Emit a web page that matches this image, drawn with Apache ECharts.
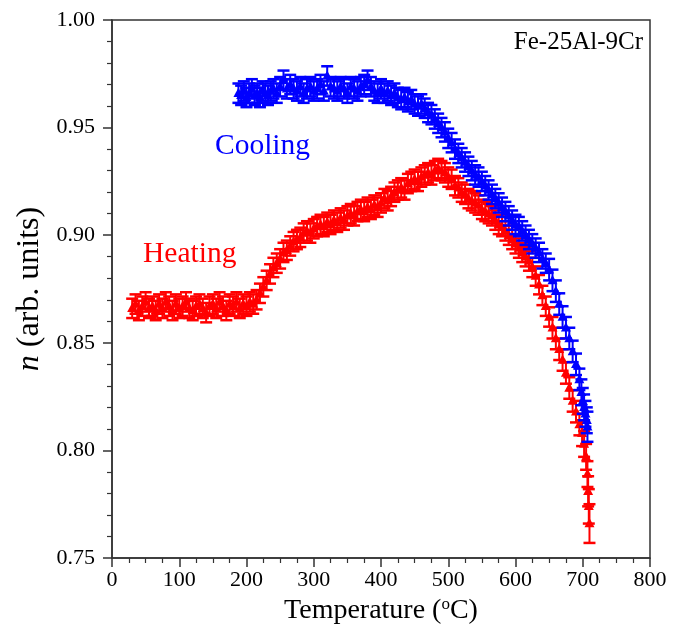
<!DOCTYPE html>
<html>
<head>
<meta charset="utf-8">
<script src="https://cdn.jsdelivr.net/npm/echarts@6/dist/echarts.min.js"></script>
<style>
html,body{margin:0;padding:0;background:#fff;}
#chart{width:682px;height:630px;}
</style>
</head>
<body>
<div id="chart"></div>
<script>
// Heating data: [temperature (°C), n (arb. units), error]
var heating = [
[30,0.866,0.0045],[35,0.868,0.0045],[40,0.865,0.0045],[45,0.867,0.0045],[50,0.869,0.0045],
[55,0.866,0.0045],[60,0.867,0.0045],[65,0.865,0.0045],[70,0.868,0.0045],[75,0.866,0.0045],
[80,0.869,0.0045],[85,0.867,0.0045],[90,0.865,0.0045],[95,0.868,0.0045],[100,0.866,0.0045],
[105,0.867,0.0045],[110,0.869,0.0045],[115,0.866,0.0045],[120,0.865,0.0045],[125,0.867,0.0045],
[130,0.868,0.0045],[135,0.866,0.0045],[140,0.864,0.0045],[145,0.867,0.0045],[150,0.868,0.0045],
[155,0.866,0.0045],[160,0.869,0.0045],[165,0.867,0.0045],[170,0.865,0.0045],[175,0.868,0.0045],
[180,0.867,0.0045],[185,0.869,0.0045],[190,0.866,0.0045],[195,0.868,0.0045],[200,0.867,0.0045],
[205,0.869,0.0045],[210,0.868,0.0045],[215,0.870,0.0045],[220,0.873,0.0045],[225,0.876,0.0045],
[230,0.879,0.0045],[235,0.882,0.0045],[240,0.885,0.0045],[245,0.887,0.0045],[250,0.889,0.0045],
[255,0.892,0.0045],[260,0.893,0.0045],[265,0.895,0.0045],[270,0.897,0.0045],[275,0.898,0.0045],
[280,0.899,0.0045],[285,0.901,0.0045],[290,0.902,0.0045],[295,0.901,0.0045],[300,0.903,0.0045],
[305,0.904,0.0045],[310,0.905,0.0045],[315,0.904,0.0045],[320,0.906,0.0045],[325,0.905,0.0045],
[330,0.907,0.0045],[335,0.906,0.0045],[340,0.908,0.0045],[345,0.907,0.0045],[350,0.909,0.0045],
[355,0.910,0.0045],[360,0.909,0.0045],[365,0.911,0.0045],[370,0.912,0.0045],[375,0.911,0.0045],
[380,0.913,0.0045],[385,0.912,0.0045],[390,0.914,0.0045],[395,0.913,0.0045],[400,0.915,0.0045],
[405,0.917,0.0045],[410,0.916,0.0045],[415,0.918,0.0045],[420,0.920,0.0045],[425,0.921,0.0045],
[430,0.922,0.0045],[435,0.921,0.0045],[440,0.924,0.0045],[445,0.925,0.0045],[450,0.926,0.0045],
[455,0.925,0.0045],[460,0.927,0.0045],[465,0.928,0.0045],[470,0.929,0.0045],[475,0.928,0.0045],
[480,0.930,0.0045],[485,0.931,0.0045],[490,0.930,0.0045],[495,0.929,0.0045],[500,0.927,0.0045],
[505,0.926,0.0045],[510,0.923,0.0045],[515,0.922,0.0045],[520,0.920,0.0045],[525,0.919,0.0045],
[530,0.917,0.0045],[535,0.916,0.0045],[540,0.915,0.0045],[545,0.914,0.0045],[550,0.912,0.0045],
[555,0.911,0.0045],[560,0.910,0.0045],[565,0.909,0.0045],[570,0.907,0.0045],[575,0.905,0.0045],
[580,0.904,0.0045],[585,0.902,0.0045],[590,0.900,0.0045],[595,0.898,0.0045],[600,0.896,0.0045],
[605,0.894,0.0045],[610,0.892,0.0045],[615,0.890,0.0045],[620,0.888,0.0045],[625,0.885,0.0045],
[630,0.881,0.0045],[635,0.877,0.0045],[640,0.872,0.0045],[645,0.867,0.0045],[650,0.862,0.0045],
[655,0.857,0.005],[660,0.852,0.005],[665,0.847,0.005],[670,0.842,0.005],[675,0.836,0.005],
[680,0.829,0.005],[685,0.823,0.005],[690,0.818,0.005],[695,0.812,0.005],[699,0.808,0.006],
[702,0.803,0.006],[705,0.797,0.006],[707,0.789,0.006],[708,0.781,0.007],[709,0.774,0.008],
[710,0.766,0.009]
];

// Cooling data: [temperature (°C), n (arb. units), error]
var cooling = [
[188,0.966,0.0045],[192,0.965,0.0045],[196,0.967,0.0045],[200,0.964,0.0045],[204,0.966,0.0045],
[208,0.968,0.0045],[212,0.965,0.0045],[216,0.966,0.0045],[220,0.964,0.0045],[224,0.967,0.0045],
[228,0.966,0.0045],[232,0.965,0.0045],[236,0.967,0.0045],[240,0.968,0.0045],[245,0.966,0.0045],
[250,0.969,0.0045],[255,0.972,0.0045],[260,0.968,0.0045],[265,0.970,0.0045],[270,0.968,0.0045],
[275,0.967,0.0045],[280,0.969,0.0045],[285,0.966,0.0045],[290,0.968,0.0045],[295,0.969,0.0045],
[300,0.967,0.0045],[305,0.968,0.0045],[310,0.970,0.0045],[315,0.967,0.0045],[320,0.974,0.0045],
[325,0.969,0.0045],[330,0.968,0.0045],[335,0.967,0.0045],[340,0.969,0.0045],[345,0.968,0.0045],
[350,0.966,0.0045],[355,0.969,0.0045],[360,0.968,0.0045],[365,0.967,0.0045],[370,0.969,0.0045],
[375,0.970,0.0045],[380,0.972,0.0045],[385,0.969,0.0045],[390,0.967,0.0045],[395,0.966,0.0045],
[400,0.968,0.0045],[405,0.966,0.0045],[410,0.967,0.0045],[415,0.965,0.0045],[420,0.966,0.0045],
[425,0.964,0.0045],[430,0.963,0.0045],[435,0.964,0.0045],[440,0.962,0.0045],[445,0.963,0.0045],
[450,0.961,0.0045],[455,0.960,0.0045],[460,0.961,0.0045],[465,0.959,0.0045],[470,0.957,0.0045],
[475,0.956,0.0045],[480,0.954,0.0045],[485,0.952,0.0045],[490,0.950,0.0045],[495,0.948,0.0045],
[500,0.945,0.0045],[505,0.943,0.0045],[510,0.940,0.0045],[515,0.938,0.0045],[520,0.936,0.0045],
[525,0.934,0.0045],[530,0.932,0.0045],[535,0.930,0.0045],[540,0.928,0.0045],[545,0.927,0.0045],
[550,0.925,0.0045],[555,0.923,0.0045],[560,0.921,0.0045],[565,0.919,0.0045],[570,0.917,0.0045],
[575,0.915,0.0045],[580,0.913,0.0045],[585,0.911,0.0045],[590,0.909,0.0045],[595,0.907,0.0045],
[600,0.905,0.0045],[605,0.904,0.0045],[610,0.902,0.0045],[615,0.900,0.0045],[620,0.898,0.0045],
[625,0.896,0.0045],[630,0.894,0.0045],[635,0.892,0.0045],[640,0.889,0.0045],[645,0.887,0.0045],
[650,0.884,0.005],[655,0.879,0.005],[660,0.874,0.005],[665,0.868,0.005],[670,0.862,0.005],
[675,0.857,0.005],[680,0.852,0.005],[685,0.846,0.005],[690,0.840,0.005],[695,0.833,0.005],
[698,0.827,0.006],[700,0.823,0.006],[702,0.820,0.006],[704,0.817,0.006],[706,0.814,0.006],
[707,0.811,0.007]
];

var xTicks = {min: 0, max: 800, step: 100};
var yTicks = {min: 0.75, max: 1.00, step: 0.05};

var FONT = 'Liberation Serif';

function makeRender(color) {
  return function (params, api) {
    var T = api.value(0), v = api.value(1), e = api.value(2);
    var top = api.coord([T, v + e]);
    var bot = api.coord([T, v - e]);
    var c = api.coord([T, v]);
    var w = 6, s = 5;
    return {
      type: 'group',
      children: [
        {type: 'line', shape: {x1: top[0], y1: top[1], x2: bot[0], y2: bot[1]}, style: {stroke: color, lineWidth: 2}},
        {type: 'line', shape: {x1: top[0] - w, y1: top[1], x2: top[0] + w, y2: top[1]}, style: {stroke: color, lineWidth: 2.5}},
        {type: 'line', shape: {x1: bot[0] - w, y1: bot[1], x2: bot[0] + w, y2: bot[1]}, style: {stroke: color, lineWidth: 2.5}},
        {type: 'polygon', shape: {points: [[c[0], c[1] - s - 0.5], [c[0] - s, c[1] + s * 0.75], [c[0] + s, c[1] + s * 0.75]]}, style: {fill: color}}
      ]
    };
  };
}

var chart = echarts.init(document.getElementById('chart'), null, {renderer: 'canvas'});
chart.setOption({
  animation: false,
  backgroundColor: '#fff',
  grid: {left: 112, right: 32, top: 20, bottom: 72, show: true, borderColor: '#333', borderWidth: 1.5, backgroundColor: 'transparent'},
  xAxis: {
    type: 'value', min: xTicks.min, max: xTicks.max, interval: xTicks.step,
    axisLine: {show: true, lineStyle: {color: '#333', width: 1.5}},
    axisTick: {show: true, inside: false, length: 9, lineStyle: {color: '#333', width: 1.5}},
    minorTick: {show: true, splitNumber: 4, length: 5, lineStyle: {color: '#333', width: 1.2}},
    splitLine: {show: false},
    axisLabel: {color: '#000', fontFamily: FONT, fontSize: 22, margin: 11},
    name: '{a|Temperature (}{s|o}{a|C)}',
    nameLocation: 'middle', nameGap: 32,
    nameTextStyle: {
      rich: {
        a: {fontFamily: FONT, fontSize: 28, color: '#000', lineHeight: 30},
        s: {fontFamily: FONT, fontSize: 17, color: '#000', verticalAlign: 'top', lineHeight: 30, padding: [0, 0, 9, 0]}
      }
    }
  },
  yAxis: {
    type: 'value', min: yTicks.min, max: yTicks.max, interval: yTicks.step,
    axisLine: {show: true, lineStyle: {color: '#333', width: 1.5}},
    axisTick: {show: true, inside: false, length: 9, lineStyle: {color: '#333', width: 1.5}},
    minorTick: {show: true, splitNumber: 5, length: 5, lineStyle: {color: '#333', width: 1.2}},
    splitLine: {show: false},
    axisLabel: {color: '#000', fontFamily: FONT, fontSize: 22, margin: 17, formatter: function (v) { return v.toFixed(2); }},
    name: '{i|n}{a| (arb. units)}',
    nameLocation: 'middle', nameRotate: 90, nameGap: 61,
    nameTextStyle: {
      rich: {
        i: {fontFamily: FONT, fontSize: 32, fontStyle: 'italic', color: '#000'},
        a: {fontFamily: FONT, fontSize: 32, color: '#000'}
      }
    }
  },
  graphic: [
    {type: 'text', right: 39, top: 30, style: {text: 'Fe-25Al-9Cr', font: '25px "Liberation Serif"', fill: '#000'}},
    {type: 'text', left: 215, top: 131, style: {text: 'Cooling', font: '29.5px "Liberation Serif"', fill: '#0000ff'}},
    {type: 'text', left: 143, top: 239, style: {text: 'Heating', font: '29.5px "Liberation Serif"', fill: '#ff0000'}}
  ],
  series: [
    {type: 'custom', name: 'Heating', data: heating, encode: {x: 0, y: 1}, renderItem: makeRender('#ff0000'), z: 2},
    {type: 'custom', name: 'Cooling', data: cooling, encode: {x: 0, y: 1}, renderItem: makeRender('#0000ff'), z: 3}
  ]
});
</script>
</body>
</html>
